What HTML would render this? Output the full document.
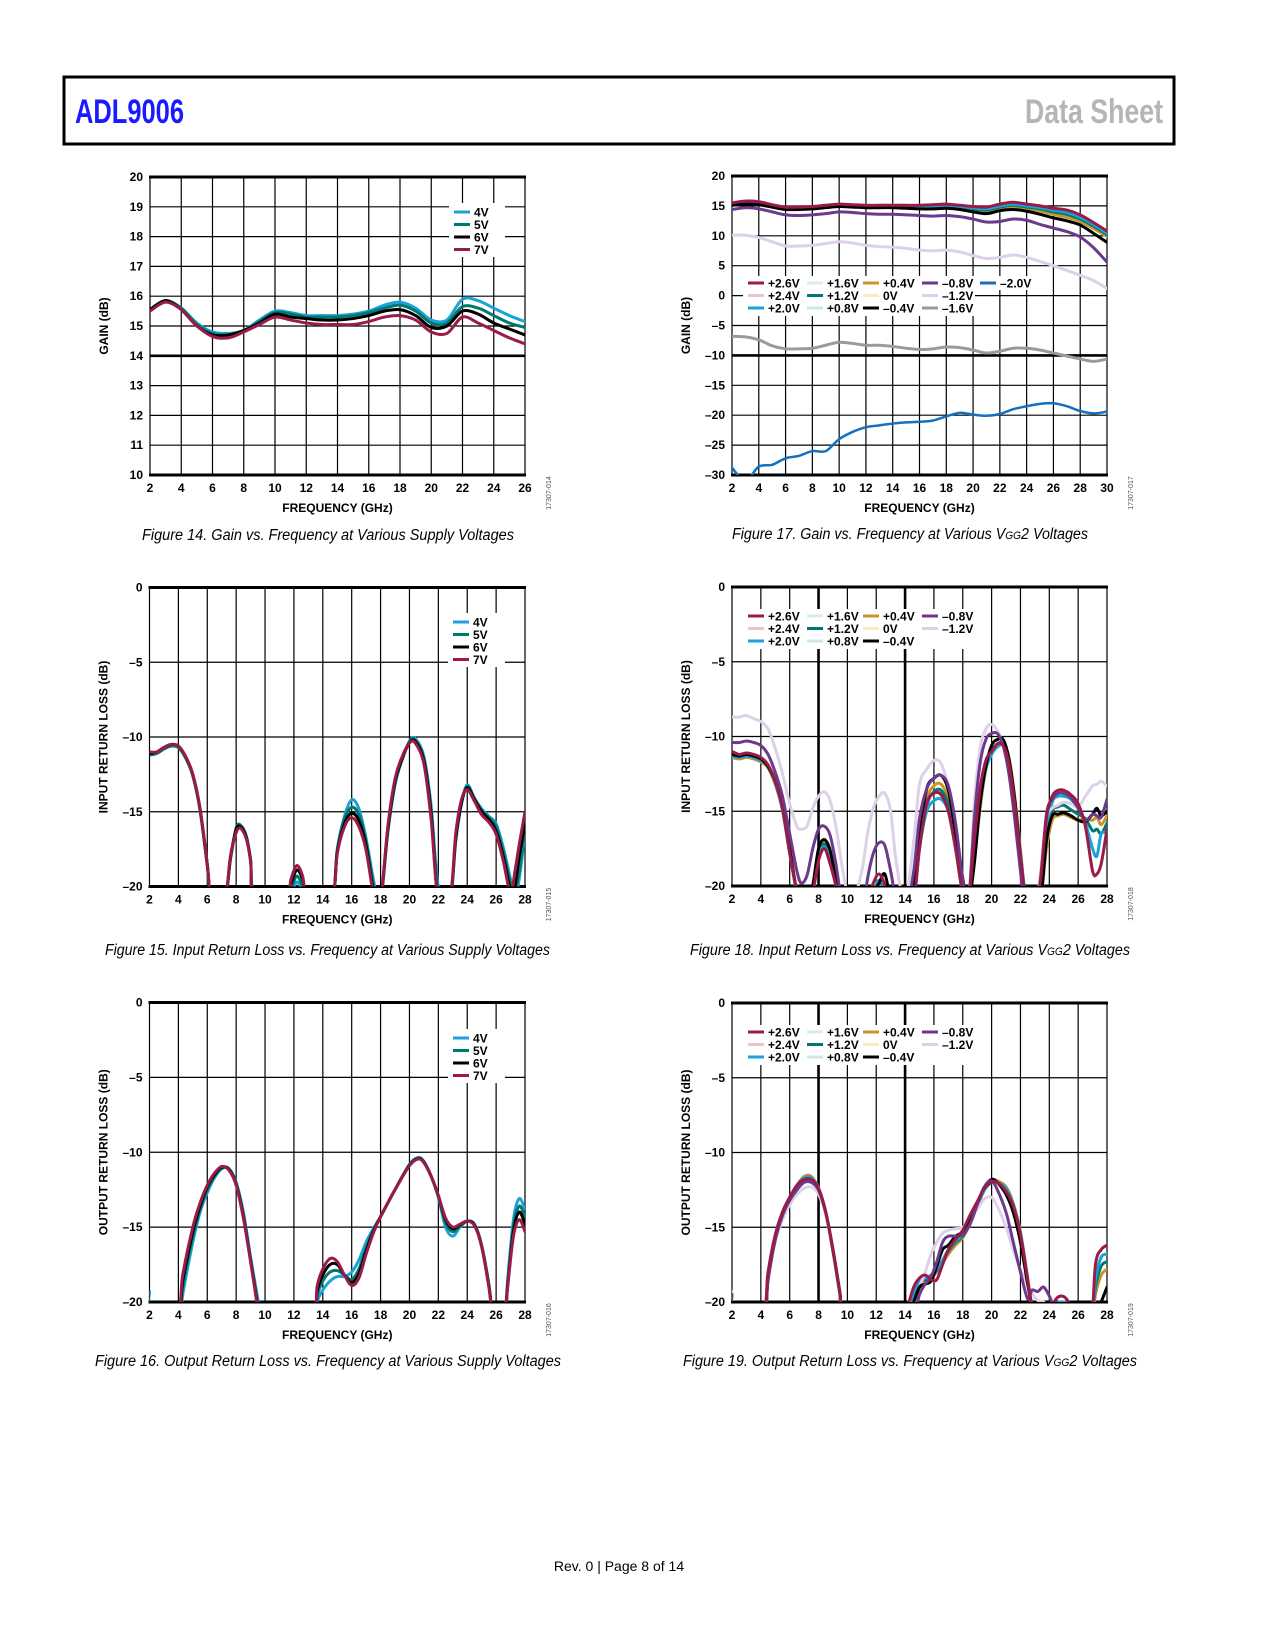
<!DOCTYPE html>
<html><head><meta charset="utf-8"><title>ADL9006 Data Sheet page 8</title>
<style>
html,body{margin:0;padding:0;background:#fff;}
svg{display:block;font-family:"Liberation Sans",Arial,sans-serif;}
</style></head>
<body>
<svg id="page" xmlns="http://www.w3.org/2000/svg" width="1275" height="1650" viewBox="0 0 1275 1650">
  <rect x="0" y="0" width="1275" height="1650" fill="#fff"/>
  <g>
    <rect x="64" y="77" width="1110" height="67" fill="none" stroke="#000" stroke-width="3"/>
    <text x="75" y="123" font-family="'Liberation Sans Narrow','Liberation Sans',sans-serif" font-weight="bold" font-size="34" fill="#1a1aff" textLength="109" lengthAdjust="spacingAndGlyphs">ADL9006</text>
    <text x="1025" y="123" font-family="'Liberation Sans Narrow','Liberation Sans',sans-serif" font-weight="bold" font-size="34" fill="#b5b5b5" textLength="138" lengthAdjust="spacingAndGlyphs">Data Sheet</text>
  </g>
  <text x="619" y="1571" font-size="14" text-anchor="middle" fill="#000">Rev. 0 | Page 8 of 14</text>
</svg>
<script>
// ---------- Figure 14 data: Gain vs frequency, supply voltages ----------
const g14_freq = [2,3,4,5,6,7,8,9,10,11,12,13,14,15,16,17,18,19,20,21,22,23,24,25,26];
const g14_4v = [15.55,15.85,15.6,15.1,14.8, 14.75,14.85,15.2,15.5,15.45, 15.35,15.35,15.35,15.4,15.5, 15.7,15.8,15.6,15.2,15.2, 15.9,15.85,15.6,15.35,15.15];
const g14_5v = [15.55,15.85,15.6,15.05,14.75, 14.7,14.85,15.15,15.45,15.4, 15.3,15.3,15.3,15.35,15.45, 15.6,15.7,15.5,15.1,15.1, 15.65,15.6,15.35,15.1,14.95];
const g14_6v = [15.55,15.85,15.55,15.0,14.7, 14.7,14.85,15.1,15.4,15.3, 15.25,15.2,15.2,15.25,15.35, 15.5,15.55,15.35,14.95,15.0, 15.5,15.4,15.1,14.9,14.7];
const g14_7v = [15.5,15.8,15.55,15.0,14.65, 14.6,14.8,15.05,15.3,15.2, 15.1,15.05,15.05,15.05,15.15, 15.3,15.35,15.2,14.8,14.75, 15.3,15.1,14.85,14.6,14.4];
const g14_xticks = [2,4,6,8,10,12,14,16,18,20,22,24,26];
const g14_yticks = [10,11,12,13,14,15,16,17,18,19,20];

// ---------- Figure 17 data: Gain vs frequency, VGG2 ----------
const g17_freq = [2,3,4,5,6,7,8,9,10,11,12,13,14,15,16,17,18,19,20,21,22,23,24,25,26,27,28,29,30];
const g17_p26 = [15.5,15.8,15.7,15.2,14.8, 14.8,14.9,15.1,15.3,15.2, 15.1,15.1,15.1,15.1,15.1, 15.2,15.3,15.1,14.9,14.8, 15.3,15.6,15.3,15.0,14.6, 14.3,13.5,12.2,10.8];
const g17_p20 = [15.4,15.7,15.6,15.1,14.7, 14.7,14.8,15.0,15.2,15.1, 15.0,15.0,15.0,15.0,14.9, 15.0,15.1,14.9,14.7,14.5, 15.0,15.3,15.0,14.7,14.3, 13.9,13.1,11.9,10.4];
const g17_p12 = [15.3,15.6,15.5,15.0,14.6, 14.6,14.7,14.9,15.1,15.0, 14.9,14.9,14.9,14.9,14.8, 14.9,15.0,14.8,14.5,14.3, 14.8,15.1,14.8,14.5,14.0, 13.6,12.8,11.6,10.2];
const g17_p04 = [15.2,15.5,15.4,14.9,14.5, 14.5,14.6,14.8,15.0,14.9, 14.8,14.8,14.8,14.8,14.7, 14.7,14.8,14.6,14.3,14.0, 14.5,14.8,14.5,14.1,13.6, 13.1,12.4,11.2,9.9];
const g17_m04 = [15.1,15.3,15.2,14.8,14.4, 14.4,14.5,14.7,14.9,14.8, 14.7,14.7,14.7,14.6,14.5, 14.5,14.6,14.4,14.0,13.7, 14.2,14.4,14.1,13.6,13.0, 12.5,11.8,10.4,8.9];
const g17_m08 = [14.4,14.7,14.5,14.0,13.5, 13.4,13.5,13.7,14.0,13.9, 13.7,13.6,13.6,13.5,13.4, 13.3,13.4,13.2,12.8,12.3, 12.4,12.8,12.6,11.9,11.3, 10.7,9.8,8.0,5.6];
const g17_m12 = [10.1,10.1,9.7,9.0,8.3, 8.3,8.4,8.7,9.0,8.8, 8.4,8.2,8.1,7.9,7.6, 7.5,7.6,7.3,6.7,6.2, 6.4,6.8,6.4,5.7,5.0, 4.2,3.4,2.5,1.2];
const g17_m16 = [-6.8,-6.9,-7.4,-8.4,-8.9, -8.9,-8.8,-8.3,-7.8,-8.0, -8.3,-8.3,-8.5,-8.8,-9.0, -8.9,-8.6,-8.7,-9.1,-9.6, -9.3,-8.8,-8.8,-9.1,-9.6, -10.1,-10.6,-11.0,-10.6];
const g17_m20 = [-28.8,-31,-28.6,-28.3,-27.2, -26.8,-26.0,-26.0,-24.0,-22.8, -22.0,-21.7,-21.4,-21.2,-21.1, -20.9,-20.2,-19.6,-19.9,-20.1, -19.8,-19.0,-18.5,-18.1,-18.0, -18.5,-19.3,-19.7,-19.4];
const g17_p24 = g17_p26, g17_p16 = g17_p20, g17_p08 = g17_p12, g17_z0 = g17_p04;
const g17_xticks = [2,4,6,8,10,12,14,16,18,20,22,24,26,28,30];
const g17_yticks = [-30,-25,-20,-15,-10,-5,0,5,10,15,20];

// ---------- Figure 15 data: Input return loss, supply voltages ----------
const i15_freq = [2,2.5,3,3.5,4,4.5,5,5.5,6,6.3, 7.2,7.6,8,8.3,8.7,9,9.3,11.4,11.8,12.2, 12.6,13,14.6,15,15.5,16,16.5,17,17.6,18, 18.5,19,19.5,20,20.4,21,21.5,22,22.8,23.2, 23.6,24,24.5,25,25.5,26,26.5,27,27.3,27.6, 28];
const i15_4v = [-11.2,-11.1,-10.8,-10.6,-10.7,-11.4,-12.6,-14.9,-18.6,-21, -21,-18.2,-16.1,-15.9,-16.6,-18.2,-20.5,-21,-20.5,-19.7, -20.3,-21,-21,-17.5,-15.3,-14.2,-14.8,-16.8,-20,-21, -16.4,-13.2,-11.5,-10.3,-10.1,-11.3,-14.6,-20,-21,-17, -14.5,-13.2,-14.1,-14.8,-15.3,-15.8,-17.4,-19.5,-20.5,-19.5, -16.4];
const i15_5v = [-11.2,-11.1,-10.8,-10.6,-10.7,-11.4,-12.6,-14.9,-18.6,-21, -21,-18.2,-16.1,-15.9,-16.7,-18.2,-20.8,-21,-20.2,-19.3, -20,-21,-21,-17.6,-15.5,-14.7,-15.2,-17,-20.4,-21, -16.3,-13.1,-11.5,-10.3,-10.2,-11.5,-14.9,-20.5,-21,-16.9, -14.4,-13.3,-14.1,-14.9,-15.4,-16,-17.7,-19.8,-20.3,-19, -16.0];
const i15_6v = [-11.1,-11.0,-10.7,-10.5,-10.6,-11.3,-12.5,-14.8,-18.5,-21, -21,-18.1,-16.2,-16.0,-16.7,-18.3,-21,-21,-19.8,-18.9, -19.5,-21,-21,-17.7,-15.8,-15.1,-15.6,-17.3,-20.8,-21, -16.2,-13,-11.4,-10.4,-10.3,-11.6,-15.2,-21,-21,-16.8, -14.4,-13.4,-14.2,-15,-15.5,-16.3,-18,-20.2,-20,-18, -15.8];
const i15_7v = [-11,-11.0,-10.7,-10.5,-10.6,-11.3,-12.5,-14.8,-18.5,-21, -21,-18,-16.4,-16.1,-16.8,-18.3,-21,-21,-19.5,-18.6, -19.3,-21,-21,-17.8,-16,-15.4,-16,-17.6,-21,-21, -16,-12.8,-11.3,-10.4,-10.4,-11.8,-15.5,-21,-21,-16.5, -14.2,-13.5,-14.3,-15.2,-15.7,-16.5,-18.3,-20.5,-19,-17.2, -15];
const rl_xticks = [2,4,6,8,10,12,14,16,18,20,22,24,26,28];
const rl_yticks = [-20,-15,-10,-5,0];

// ---------- Figure 18 data: Input return loss, VGG2 ----------
const i18_freq = [2,2.5,3,3.5,4,4.5,5,5.5,6,6.5, 6.8,7.2,7.6,8,8.4,8.8,9.2,9.6,10,10.4, 11,11.4,11.8,12.2,12.6,13,13.4,14,14.6,15, 15.5,16,16.5,17,17.5,18,18.4,18.8,19.2,19.6, 20,20.4,20.8,21.2,21.6,22,22.4,23,23.4,23.8, 24.2,24.6,25,25.5,26,26.5,27,27.3,27.6,28];
const i18_p26 = [-11,-11.2,-11.1,-11.2,-11.4,-11.9,-13,-14.8,-17.8,-20.5, -22,-22,-20.5,-18.3,-17.5,-18.5,-20,-22,-22,-22, -22,-21,-19.8,-19.2,-20,-22,-22,-22,-21,-17.5, -14.5,-13.8,-13.9,-15,-17.5,-20.5,-21,-17,-13.5,-11.6, -11,-10.5,-10.6,-11.8,-14.5,-18,-21,-22,-19.5,-15.5, -14.0,-13.6,-13.6,-13.9,-14.5,-16.0,-19,-19.2,-18.5,-16.2];
const i18_p20 = [-11.3,-11.4,-11.3,-11.4,-11.6,-12.0,-13.1,-14.9,-17.8,-20.5, -22,-22,-20.5,-18.0,-17.4,-18.2,-19.8,-21.5,-22,-22, -22,-22,-20.5,-19.6,-20.2,-22,-22,-22,-21,-17.5, -15,-14.3,-14.2,-15,-17.5,-20.5,-21,-18,-14.5,-12.2, -11.2,-10.7,-10.6,-11.6,-14.2,-17.8,-21,-22,-20.5,-16.5, -14.4,-14.0,-14.0,-14.2,-14.8,-15.8,-17.5,-18,-16.5,-16.5];
const i18_p12 = [-11.3,-11.4,-11.3,-11.4,-11.6,-12.0,-13.1,-14.9,-17.8,-20.5, -22,-22,-20.5,-17.8,-17.2,-18,-19.7,-21.5,-22,-22, -22,-22,-20.8,-19.8,-20.3,-22,-22,-22,-21,-17.3, -14.6,-13.7,-13.6,-14.6,-17.2,-20.3,-21,-18,-14.5,-12.0, -11.0,-10.5,-10.5,-11.6,-14.2,-17.8,-21,-22,-20.5,-17, -15,-14.7,-14.6,-14.9,-15.2,-15.5,-16.3,-16.2,-16.5,-15.8];
const i18_p04 = [-11.4,-11.5,-11.4,-11.5,-11.7,-12.1,-13.2,-14.9,-17.8,-20.5, -22,-22,-20.3,-17.6,-17.0,-17.8,-19.6,-21.5,-22,-22, -22,-22,-21,-20,-20.5,-22,-22,-22,-21,-17, -14.2,-13.3,-13.2,-14.2,-16.8,-20,-21,-18.2,-14.8,-12.2, -11.0,-10.5,-10.4,-11.4,-14.0,-17.6,-21,-22,-21,-17.5, -15.6,-15.3,-15.2,-15.4,-15.6,-15.5,-15.6,-15.4,-15.9,-15.3];
const i18_m04 = [-11.2,-11.3,-11.2,-11.3,-11.5,-12.0,-13.0,-14.6,-17.5,-20.5, -22,-22,-20,-17.5,-16.9,-17.6,-19.5,-21,-22,-22, -22,-22,-20.5,-19.8,-19.2,-21,-22,-22,-20,-16.5, -13.5,-12.8,-12.6,-13.6,-16.5,-19.5,-21,-18.5,-14.5,-12.0, -10.6,-10.2,-10.2,-11.5,-14.2,-18,-21.5,-22,-21,-17, -15.3,-15.2,-15.1,-15.3,-15.6,-15.7,-15.2,-14.8,-15.3,-15];
const i18_m08 = [-10.4,-10.4,-10.3,-10.4,-10.6,-11.2,-12.4,-14.0,-16.5,-19, -19.8,-19.3,-17.5,-16.2,-16.0,-16.6,-18.5,-21,-22,-22, -22,-19.5,-17.8,-17.1,-17.3,-19,-21,-22,-19,-15.5, -13.5,-12.8,-12.6,-13.3,-15.8,-19.5,-21,-15.5,-11.8,-10.2, -9.8,-9.8,-10.6,-12.5,-15.5,-19,-22,-22,-19.5,-15.2, -14.2,-13.8,-13.8,-14.1,-14.8,-15.6,-15.2,-15.3,-15.4,-14.2];
const i18_m12 = [-8.7,-8.7,-8.6,-8.8,-9.0,-9.5,-10.8,-12.5,-14.5,-16.0, -16.2,-16.0,-14.8,-14.0,-13.7,-14.3,-16,-18.5,-20.5,-21, -19,-16.5,-14.8,-14,-13.8,-15,-18.5,-21,-17,-13.2, -12.2,-11.6,-11.8,-13.5,-16.5,-20,-21,-14.5,-10.8,-9.5, -9.2,-9.6,-10.5,-12,-15,-19,-22,-22,-19,-15.5, -14.8,-14.6,-14.4,-14.5,-14.7,-14.0,-13.3,-13.2,-13.0,-13.3];
const i18_p24 = i18_p26, i18_p16 = i18_p20, i18_p08 = i18_p12, i18_z0 = i18_p04;

// ---------- Figure 16 data: Output return loss, supply voltages ----------
const o16_freq = [2,2.1,3.9,4.3,5,5.5,6,6.5,7,7.5, 8,8.5,9,9.5,9.7,13.2,13.6,14,14.5,15, 15.5,16,16.5,17,17.5,18,19,20,20.6,21, 21.5,22,22.5,23,23.5,24,24.5,25,25.5,25.8, 26.5,26.8,27.2,27.6,28];
const o16_4v = [-19.3,-20.5,-22,-19.5,-16,-14,-12.7,-11.7,-11.1,-11.1, -12.0,-14.0,-17.0,-19.8,-21,-22,-20,-19.2,-18.6,-18.3, -18.3,-18.0,-17.2,-16.0,-15.1,-14.3,-12.5,-10.8,-10.35,-10.6, -11.6,-13.0,-15.0,-15.6,-15.0,-14.6,-14.8,-16.2,-18.8,-21, -22,-18.5,-14.5,-13.1,-13.8];
const o16_5v = [-22,-22,-22,-19,-15.6,-13.8,-12.5,-11.6,-11.05,-11.1, -12.1,-14.2,-17.2,-20.2,-21.5,-22,-19.6,-18.6,-18.0,-17.9, -18.2,-18.5,-17.8,-16.4,-15.2,-14.3,-12.5,-10.85,-10.4,-10.65, -11.6,-12.95,-14.7,-15.3,-14.9,-14.6,-14.85,-16.25,-18.9,-21, -22,-18.8,-15,-13.6,-14.3];
const o16_6v = [-22,-22,-21.5,-18.6,-15.3,-13.6,-12.3,-11.5,-11.0,-11.15, -12.15,-14.3,-17.25,-20.3,-21.8,-22,-19.3,-18.2,-17.5,-17.5, -18.2,-18.7,-18.1,-16.6,-15.3,-14.3,-12.5,-10.87,-10.42,-10.68, -11.6,-12.9,-14.5,-15.1,-14.85,-14.6,-14.85,-16.3,-18.95,-21, -22,-18.9,-15.3,-14.0,-14.8];
const o16_7v = [-22,-22,-21,-18.2,-15,-13.4,-12.2,-11.4,-10.95,-11.2, -12.2,-14.4,-17.3,-20.5,-22,-22,-19,-17.8,-17.1,-17.3, -18.2,-18.9,-18.4,-16.8,-15.4,-14.3,-12.5,-10.9,-10.45,-10.7, -11.6,-12.9,-14.4,-15.0,-14.8,-14.6,-14.9,-16.3,-19,-21, -22,-19,-15.6,-14.5,-15.3];

// ---------- Figure 19 data: Output return loss, VGG2 ----------
const o19_freq = [2,2.1,4.1,4.5,5,5.5,6,6.5,7,7.5, 8,8.5,9,9.5,9.8,13.8,14.2,14.6,15,15.4, 15.8,16.2,16.6,17,17.5,18,18.5,19,19.5,20, 20.4,21,21.5,22,22.5,22.8,23.2,23.6,24,24.4, 24.8,25.2,25.6,26.8,27.2,27.6,28];
const o19_p26 = [-22,-22,-21,-18,-15.5,-14,-13,-12.2,-11.8,-11.8, -12.4,-14,-16.5,-19.5,-21.5,-22,-20.3,-19,-18.4,-18.2, -18.5,-18.5,-17.5,-16.5,-15.8,-15.2,-14.2,-13.3,-12.4,-12.0, -12.0,-12.6,-13.6,-15.5,-18.5,-20.5,-22,-22,-21,-19.9, -19.6,-19.8,-20.5,-22,-17.5,-16.5,-16.2];
const o19_p20 = [-22,-22,-21.2,-18.2,-15.6,-14,-13,-12.2,-11.7,-11.7, -12.4,-14,-16.6,-19.6,-21.6,-22,-20.6,-19.4,-18.6,-18.4, -18.2,-17.8,-17.2,-16.5,-15.9,-15.5,-14.6,-13.5,-12.5,-12.0, -12.0,-12.4,-13.5,-15.4,-18.5,-20.3,-22,-22,-21,-20.2, -20.0,-20.1,-20.6,-22,-18.5,-17,-16.8];
const o19_p12 = [-22,-22,-21.2,-18.2,-15.6,-14,-13,-12.2,-11.7,-11.7, -12.4,-14,-16.6,-19.6,-21.6,-22,-20.7,-19.5,-18.7,-18.5, -18.3,-17.9,-17.3,-16.6,-16.0,-15.6,-14.7,-13.6,-12.5,-12.0, -12.0,-12.4,-13.5,-15.4,-18.5,-20.3,-22,-22,-21,-20.2, -20.0,-20.1,-20.6,-22,-19,-17.6,-17.3];
const o19_p04 = [-22,-22,-21.2,-18.2,-15.6,-14,-13,-12.2,-11.6,-11.6, -12.4,-14,-16.6,-19.6,-21.6,-22,-20.8,-19.6,-18.8,-18.6, -18.4,-18.0,-17.4,-16.8,-16.2,-15.7,-14.8,-13.6,-12.5,-11.9, -11.9,-12.3,-13.4,-15.3,-18.4,-20.3,-22,-22,-21,-20.3, -20.1,-20.2,-20.7,-22,-19.5,-18.2,-17.8];
const o19_m04 = [-20,-21,-21.5,-18.5,-15.8,-14.2,-13.1,-12.3,-11.9,-11.9, -12.5,-14,-16.5,-19.5,-21.5,-22,-21,-20,-19,-18.8, -18.6,-17.6,-16.5,-16.2,-15.6,-15.3,-14.4,-13.4,-12.3,-11.8, -12.0,-12.8,-14,-16,-18.8,-20.3,-22,-22,-21,-20.3, -20.2,-20.4,-21,-22,-21,-20,-19];
const o19_m08 = [-19.5,-21,-21.5,-18.5,-15.8,-14.2,-13.2,-12.5,-12.0,-12.0, -12.5,-14,-16.5,-19.5,-21.5,-22,-22,-21,-19.5,-18.8, -18.3,-17.3,-16,-15.6,-15.6,-15.5,-14.8,-13.5,-12.3,-11.9, -12.5,-14,-16,-18,-19.8,-19.2,-19.3,-19,-19.6,-20.5, -21,-22,-22,-22,-22,-22,-22];
const o19_m12 = [-19.3,-21,-21.5,-18.5,-16,-14.5,-13.5,-12.8,-12.4,-12.3, -12.8,-14.2,-16.5,-19.5,-21.5,-22,-22,-20.5,-19,-18, -16.8,-16,-15.4,-15.2,-15.1,-15,-14.5,-13.8,-13.1,-13.0, -13.6,-15,-16.5,-17.8,-18.8,-19.4,-19.9,-20,-20.5,-21, -22,-22,-22,-22,-22,-22,-22];
const o19_p24 = o19_p26, o19_p16 = o19_p20, o19_p08 = o19_p12, o19_z0 = o19_p04;

// ---------- colors ----------
const C = {v4:'#1aa3d9',v5:'#007a6e',v6:'#000',v7:'#9b1b48',
  p26:'#9b1b48',p24:'#ecc4c4',p20:'#1aa3d9',p16:'#d8eef7',p12:'#007a6e',p08:'#cbe9dc',
  p04:'#c8952a',z0:'#fbe9c4',m04:'#000',m08:'#6b3a8c',m12:'#ddd0e8',m16:'#9a9a9a',m20:'#1570c0'};

const NS = 'http://www.w3.org/2000/svg';
const page = document.getElementById('page');
function mk(tag, attrs, parent){
  const e = document.createElementNS(NS, tag);
  for (const k in attrs) e.setAttribute(k, attrs[k]);
  (parent||page).appendChild(e);
  return e;
}
function smoothPath(pts){
  if (!pts.length) return '';
  let d = 'M' + pts[0][0].toFixed(2) + ',' + pts[0][1].toFixed(2);
  for (let i = 0; i < pts.length - 1; i++){
    const p0 = pts[i-1] || pts[i], p1 = pts[i], p2 = pts[i+1], p3 = pts[i+2] || p2;
    const t = 0.16;
    const c1x = p1[0] + (p2[0]-p0[0])*t, c1y = p1[1] + (p2[1]-p0[1])*t;
    const c2x = p2[0] - (p3[0]-p1[0])*t, c2y = p2[1] - (p3[1]-p1[1])*t;
    d += ' C' + c1x.toFixed(2)+','+c1y.toFixed(2)+' '+c2x.toFixed(2)+','+c2y.toFixed(2)+' '+p2[0].toFixed(2)+','+p2[1].toFixed(2);
  }
  return d;
}
let clipN = 0;
function chart(c){
  const g = mk('g', {});
  
  
  const sx = v => c.x0 + (v - c.xmin) / (c.xmax - c.xmin) * (c.x1 - c.x0);
  const sy = v => c.y1 - (v - c.ymin) / (c.ymax - c.ymin) * (c.y1 - c.y0);
  // grid
  const grid = mk('g', {}, g);
  
  
  c.xticks.forEach(v => {
    const thick = (c.thickX || []).indexOf(v) >= 0;
    const ln = mk('line', {x1:sx(v), x2:sx(v), y1:c.y0, y2:c.y1, stroke:'#000', 'stroke-width': thick ? 2.6 : 1.2}, grid);
    
    
  });
  c.yticks.forEach(v => {
    const thick = (c.thickY || []).indexOf(v) >= 0;
    const ln = mk('line', {x1:c.x0, x2:c.x1, y1:sy(v), y2:sy(v), stroke:'#000', 'stroke-width': thick ? 2.6 : 1.2}, grid);
    
    
  });
  mk('line', {x1:c.x0-1, x2:c.x1+1, y1:c.y0, y2:c.y0, stroke:'#000', 'stroke-width':3}, grid);
  mk('line', {x1:c.x0-1, x2:c.x1+1, y1:c.y1, y2:c.y1, stroke:'#000', 'stroke-width':3}, grid);
  // tick labels
  c.xticks.forEach(v => {
    const t = mk('text', {x:sx(v), y:c.y1+17, 'text-anchor':'middle', 'font-size':12, 'font-weight':'bold'}, g);
    t.textContent = v;
    
    
  });
  c.yticks.forEach(v => {
    const t = mk('text', {x:c.x0-7, y:sy(v)+4, 'text-anchor':'end', 'font-size':12, 'font-weight':'bold'}, g);
    t.textContent = v < 0 ? '\u2013' + Math.abs(v) : String(v);
    
    
  });
  const xt = mk('text', {x:(c.x0+c.x1)/2, y:c.y1+37, 'text-anchor':'middle', 'font-size':12, 'font-weight':'bold'}, g);
  xt.textContent = 'FREQUENCY (GHz)';
  
  
  const ym = (c.y0+c.y1)/2, yx = c.x0 - 42;
  const yt = mk('text', {x:yx, y:ym, 'text-anchor':'middle', 'font-size':12, 'font-weight':'bold', transform:'rotate(-90 '+yx+' '+ym+')'}, g);
  yt.textContent = c.ytitle;
  
  
  const idx = c.x1 + 26, idy = c.y1 + 18;
  const idt = mk('text', {x:idx, y:idy, 'text-anchor':'middle', 'font-size':7, fill:'#555', transform:'rotate(-90 '+idx+' '+idy+')'}, g);
  idt.textContent = c.figid;
  
  
  // legend background
  (c.legendBoxes || []).forEach(b => {
    mk('rect', {x:b[0], y:b[1], width:b[2], height:b[3], fill:'#fff'}, g);
  });
  // series
  const cid = 'clip' + (clipN++);
  const cp = mk('clipPath', {id:cid}, g);
  mk('rect', {x:c.x0, y:c.y0, width:c.x1-c.x0, height:c.y1-c.y0}, cp);
  const sg = mk('g', {'clip-path':'url(#'+cid+')'}, g);
  c.series.forEach(s => {
    const pts = [];
    const n = Math.min(s.xs.length, s.ys.length);
    for (let i = 0; i < n; i++) pts.push([sx(s.xs[i]), sy(s.ys[i])]);
    const p = mk('path', {d:smoothPath(pts), fill:'none', stroke:s.color, 'stroke-width':s.w || 3, 'stroke-linejoin':'round', 'stroke-linecap':'round'}, sg);
    
    
  });
  // legend entries
  (c.legend || []).forEach(L => {
    const lg = mk('g', {}, g);
    
    
    mk('line', {x1:L.x, x2:L.x+16, y1:L.y, y2:L.y, stroke:L.color, 'stroke-width':3}, lg);
    const t = mk('text', {x:L.x+20, y:L.y+4.5, 'font-size':12, 'font-weight':'bold'}, lg);
    t.textContent = L.label;
  });
  // caption
  const cap = mk('text', {x:c.capX, y:c.capY, 'font-size':15.5, 'font-style':'italic', textLength:c.capW, lengthAdjust:'spacingAndGlyphs'}, g);
  
  
  c.caption.forEach(part => {
    const ts = mk('tspan', part.sub ? {'font-size':11} : {}, cap);
    ts.textContent = part.t;
  });
}
function grid4(x, y){ // legend for supply-voltage charts
  return [{x:x,y:y,color:C.v4,label:'4V'},{x:x,y:y+12.5,color:C.v5,label:'5V'},{x:x,y:y+25,color:C.v6,label:'6V'},{x:x,y:y+37.5,color:C.v7,label:'7V'}];
}
function vggLegend(y, withExtra){
  const cols = [748, 807, 863, 922, 980];
  const L = [
    {x:cols[0],y:y,color:C.p26,label:'+2.6V'},{x:cols[0],y:y+12.5,color:C.p24,label:'+2.4V'},{x:cols[0],y:y+25,color:C.p20,label:'+2.0V'},
    {x:cols[1],y:y,color:C.p16,label:'+1.6V'},{x:cols[1],y:y+12.5,color:C.p12,label:'+1.2V'},{x:cols[1],y:y+25,color:C.p08,label:'+0.8V'},
    {x:cols[2],y:y,color:C.p04,label:'+0.4V'},{x:cols[2],y:y+12.5,color:C.z0,label:'0V'},{x:cols[2],y:y+25,color:C.m04,label:'\u20130.4V'},
    {x:cols[3],y:y,color:C.m08,label:'\u20130.8V'},{x:cols[3],y:y+12.5,color:C.m12,label:'\u20131.2V'}];
  if (withExtra){
    L.push({x:cols[3],y:y+25,color:C.m16,label:'\u20131.6V'});
    L.push({x:cols[4],y:y,color:C.m20,label:'\u20132.0V'});
  }
  return L;
}
function ser(key, xs, ys, color, w){ return {key:key, xs:xs, ys:ys, color:color, w:w}; }

// Figure 14
chart({name:'chart-fig14-gain-supply', x0:150, x1:525, y0:177, y1:475, xmin:2, xmax:26, ymin:10, ymax:20,
  xticks:g14_xticks, yticks:g14_yticks, thickY:[14], ytitle:'GAIN (dB)', figid:'17307-014',
  legendBoxes:[[449,203,56,54]], legend:grid4(454,212),
  series:[ser('4v',g14_freq,g14_4v,C.v4),ser('5v',g14_freq,g14_5v,C.v5),ser('6v',g14_freq,g14_6v,C.v6),ser('7v',g14_freq,g14_7v,C.v7)],
  capX:142, capY:540, capW:372, caption:[{t:'Figure 14. Gain vs. Frequency at Various Supply Voltages'}]});

// Figure 17
chart({name:'chart-fig17-gain-vgg2', x0:732, x1:1107, y0:176, y1:475, xmin:2, xmax:30, ymin:-30, ymax:20,
  xticks:g17_xticks, yticks:g17_yticks, thickY:[-10], ytitle:'GAIN (dB)', figid:'17307-017',
  legendBoxes:[[743,276,297,14],[743,276,232,40]], legend:vggLegend(283,true),
  series:[ser('p24',g17_freq,g17_p24,C.p24),ser('p16',g17_freq,g17_p16,C.p16),ser('p08',g17_freq,g17_p08,C.p08),ser('z0',g17_freq,g17_z0,C.z0),
    ser('p04',g17_freq,g17_p04,C.p04),ser('p12',g17_freq,g17_p12,C.p12),ser('p20',g17_freq,g17_p20,C.p20),ser('m04',g17_freq,g17_m04,C.m04),
    ser('m08',g17_freq,g17_m08,C.m08),ser('m12',g17_freq,g17_m12,C.m12),ser('m16',g17_freq,g17_m16,C.m16),ser('m20',g17_freq,g17_m20,C.m20,2.5),
    ser('p26',g17_freq,g17_p26,C.p26)],
  capX:732, capY:539, capW:356, caption:[{t:'Figure 17. Gain vs. Frequency at Various V'},{t:'GG',sub:true},{t:'2 Voltages'}]});

// Figure 15
chart({name:'chart-fig15-input-rl-supply', x0:149.5, x1:525, y0:587.5, y1:886.5, xmin:2, xmax:28, ymin:-20, ymax:0,
  xticks:rl_xticks, yticks:rl_yticks, ytitle:'INPUT RETURN LOSS (dB)', figid:'17307-015',
  legendBoxes:[[448,613,57,54]], legend:grid4(453,622),
  series:[ser('4v',i15_freq,i15_4v,C.v4),ser('5v',i15_freq,i15_5v,C.v5),ser('6v',i15_freq,i15_6v,C.v6),ser('7v',i15_freq,i15_7v,C.v7)],
  capX:105, capY:955, capW:445, caption:[{t:'Figure 15. Input Return Loss vs. Frequency at Various Supply Voltages'}]});

// Figure 18
chart({name:'chart-fig18-input-rl-vgg2', x0:732, x1:1107, y0:587, y1:886, xmin:2, xmax:28, ymin:-20, ymax:0,
  xticks:rl_xticks, yticks:rl_yticks, thickX:[8,14], ytitle:'INPUT RETURN LOSS (dB)', figid:'17307-018',
  legendBoxes:[[743,609,232,40]], legend:vggLegend(616,false),
  series:[ser('p24',i18_freq,i18_p24,C.p24),ser('p16',i18_freq,i18_p16,C.p16),ser('p08',i18_freq,i18_p08,C.p08),ser('z0',i18_freq,i18_z0,C.z0),
    ser('p04',i18_freq,i18_p04,C.p04),ser('p12',i18_freq,i18_p12,C.p12),ser('p20',i18_freq,i18_p20,C.p20),ser('m12',i18_freq,i18_m12,C.m12),
    ser('m04',i18_freq,i18_m04,C.m04),ser('m08',i18_freq,i18_m08,C.m08),ser('p26',i18_freq,i18_p26,C.p26)],
  capX:690, capY:955, capW:440, caption:[{t:'Figure 18. Input Return Loss vs. Frequency at Various V'},{t:'GG',sub:true},{t:'2 Voltages'}]});

// Figure 16
chart({name:'chart-fig16-output-rl-supply', x0:149.5, x1:525, y0:1002.5, y1:1302, xmin:2, xmax:28, ymin:-20, ymax:0,
  xticks:rl_xticks, yticks:rl_yticks, ytitle:'OUTPUT RETURN LOSS (dB)', figid:'17307-016',
  legendBoxes:[[448,1029,57,54]], legend:grid4(453,1038),
  series:[ser('4v',o16_freq,o16_4v,C.v4),ser('5v',o16_freq,o16_5v,C.v5),ser('6v',o16_freq,o16_6v,C.v6),ser('7v',o16_freq,o16_7v,C.v7)],
  capX:95, capY:1366, capW:466, caption:[{t:'Figure 16. Output Return Loss vs. Frequency at Various Supply Voltages'}]});

// Figure 19
chart({name:'chart-fig19-output-rl-vgg2', x0:732, x1:1107, y0:1003, y1:1302, xmin:2, xmax:28, ymin:-20, ymax:0,
  xticks:rl_xticks, yticks:rl_yticks, thickX:[8,14], ytitle:'OUTPUT RETURN LOSS (dB)', figid:'17307-019',
  legendBoxes:[[743,1025,232,40]], legend:vggLegend(1032,false),
  series:[ser('p24',o19_freq,o19_p24,C.p24),ser('p16',o19_freq,o19_p16,C.p16),ser('p08',o19_freq,o19_p08,C.p08),ser('z0',o19_freq,o19_z0,C.z0),
    ser('p04',o19_freq,o19_p04,C.p04),ser('p12',o19_freq,o19_p12,C.p12),ser('p20',o19_freq,o19_p20,C.p20),ser('m12',o19_freq,o19_m12,C.m12),
    ser('m04',o19_freq,o19_m04,C.m04),ser('m08',o19_freq,o19_m08,C.m08),ser('p26',o19_freq,o19_p26,C.p26)],
  capX:683, capY:1366, capW:454, caption:[{t:'Figure 19. Output Return Loss vs. Frequency at Various V'},{t:'GG',sub:true},{t:'2 Voltages'}]});
</script>
</body></html>
